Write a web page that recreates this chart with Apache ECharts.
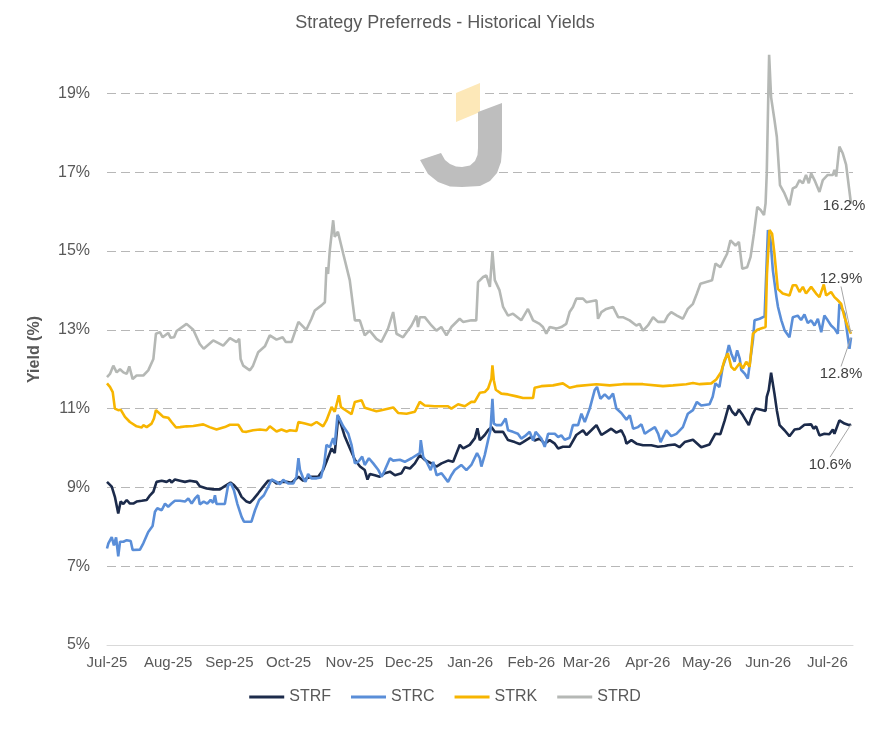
<!DOCTYPE html>
<html>
<head>
<meta charset="utf-8">
<script src="https://cdn.jsdelivr.net/npm/echarts@6/dist/echarts.min.js"></script>
<style>
  html, body { margin: 0; padding: 0; background: #fff; }
  #chart { width: 890px; height: 736px; }
</style>
</head>
<body>
<div id="chart"></div>
<script>
// x = days since 1 Jul 2025, y = yield in %
const START = Date.UTC(2025, 6, 1);
const DAY = 86400000;
const MONTHS = ['Jan', 'Feb', 'Mar', 'Apr', 'May', 'Jun', 'Jul', 'Aug', 'Sep', 'Oct', 'Nov', 'Dec'];
const seriesNames = ['STRF', 'STRC', 'STRK', 'STRD'];

const strf = [
  [0, 9.14], [2.4, 9.02], [4, 8.76], [5.7, 8.34], [6.9, 8.64], [8.3, 8.58], [10, 8.68], [11.6, 8.59],
  [13.3, 8.59], [15, 8.64], [17.6, 8.66], [20.1, 8.68], [21.8, 8.8], [23.5, 8.89], [25.1, 9.14], [27.7, 9.17],
  [30.2, 9.14], [31.9, 9.19], [32.7, 9.12], [34.4, 9.2], [37, 9.17], [39.5, 9.14], [42, 9.17], [45.4, 9.14],
  [47, 9.03], [50.5, 8.97], [53.8, 8.95], [57.2, 8.95], [59.7, 9.03], [62.6, 9.12], [64.3, 9.06], [66.5, 8.93],
  [68.2, 8.76], [70.7, 8.64], [72.4, 8.61], [74, 8.69], [76.6, 8.85], [79.2, 9.02], [81.7, 9.17], [84.2, 9.17],
  [85.9, 9.1], [88.4, 9.14], [91, 9.14], [93.5, 9.12], [97, 9.27], [99.4, 9.17], [101.1, 9.23], [103.6, 9.27],
  [107, 9.27], [109.5, 9.44], [111.2, 9.65], [112.1, 9.61], [113.8, 9.99], [115.4, 9.87], [117.2, 10.8], [118.9, 10.55],
  [120.5, 10.29], [123.1, 9.99], [125.6, 9.7], [128.2, 9.53], [130.6, 9.44], [132, 9.2], [133.2, 9.34], [135.7, 9.31],
  [138.2, 9.27], [140.8, 9.36], [143.4, 9.4], [145.9, 9.31], [149.2, 9.36], [150.9, 9.51], [153.5, 9.48], [156, 9.61],
  [158.5, 9.82], [161, 9.7], [164.4, 9.61], [166.9, 9.53], [169.5, 9.61], [172.8, 9.68], [175.4, 9.65], [178.8, 10.08],
  [180.5, 9.99], [183.8, 10.08], [186.4, 10.25], [187.7, 10.5], [188.9, 10.2], [191.4, 10.33], [193.1, 10.45], [194.8, 10.53],
  [196.5, 10.41], [200.7, 10.41], [203.2, 10.2], [206.6, 10.15], [209.1, 10.1], [210.8, 10.15], [215, 10.28], [216.7, 10.19],
  [219.2, 10.24], [221.8, 10.11], [224.3, 10.2], [226.9, 10.11], [228.6, 9.99], [231, 10.03], [234.4, 10.03], [237.8, 10.33],
  [241.2, 10.45], [242.9, 10.33], [245.4, 10.45], [248, 10.58], [250.5, 10.33], [253, 10.41], [255.5, 10.49], [258.1, 10.39],
  [260.6, 10.45], [262.3, 10.28], [263.2, 10.11], [265.7, 10.2], [268.3, 10.11], [271.6, 10.07], [275.8, 10.07], [279.2, 10.03],
  [282.6, 10.05], [284.2, 10.07], [287.6, 10.09], [290.1, 10.02], [292.7, 10.15], [296.9, 10.21], [301.1, 10.02], [305.3, 10.09],
  [308.2, 10.36], [310.8, 10.35], [313, 10.7], [315.1, 11.08], [316.8, 10.92], [318.5, 10.83], [320.2, 10.97], [322.2, 10.83],
  [325.2, 10.58], [326.9, 10.83], [328.6, 11.0], [331.4, 10.97], [333.7, 10.94], [334.3, 11.3], [335.3, 11.47], [336.5, 11.91],
  [338.2, 11.38], [339.4, 10.96], [340.8, 10.58], [343.3, 10.45], [345.8, 10.3], [348.4, 10.47], [350.9, 10.49], [353.4, 10.59],
  [356.8, 10.6], [358, 10.49], [359.3, 10.55], [361, 10.32], [363.5, 10.36], [366, 10.35], [367.8, 10.47], [368.6, 10.36],
  [371.1, 10.7], [373.7, 10.62], [376.2, 10.58], [377, 10.6]
];

const strc = [
  [0, 7.45], [0.7, 7.58], [2.4, 7.74], [3.5, 7.53], [4.6, 7.73], [5.7, 7.25], [6.6, 7.62], [8.3, 7.62],
  [10, 7.66], [12, 7.64], [13, 7.41], [16.7, 7.42], [18.4, 7.58], [20.9, 7.87], [23.1, 8.02], [24.3, 8.38],
  [25.5, 8.47], [27.7, 8.42], [29.4, 8.59], [31, 8.51], [32.7, 8.59], [34.4, 8.66], [37, 8.66], [39.5, 8.64],
  [41.2, 8.72], [42.9, 8.59], [44.6, 8.72], [46.2, 8.8], [47, 8.57], [49, 8.64], [50.8, 8.59], [52.5, 8.68],
  [53.8, 8.61], [54.7, 8.8], [55.5, 8.58], [59.7, 8.58], [61.4, 9.06], [62.8, 9.1], [64.3, 8.93], [66, 8.59],
  [68.2, 8.25], [69.4, 8.13], [73.2, 8.13], [75, 8.42], [77.1, 8.68], [79.5, 8.8], [81.7, 9.02], [83.4, 9.2],
  [85.9, 9.14], [87.6, 9.08], [89.3, 9.19], [91.8, 9.1], [94.4, 9.1], [96, 9.27], [97, 9.74], [97.8, 9.44],
  [99.4, 9.23], [100.6, 9.14], [101.9, 9.34], [103.6, 9.23], [106.2, 9.23], [108.4, 9.25], [110.1, 9.61], [111.2, 10.08],
  [112.9, 10.02], [114.6, 10.25], [115.4, 10.08], [116.8, 10.84], [118, 10.72], [119.7, 10.55], [122.2, 10.37], [123.9, 10.08],
  [125.6, 9.61], [127.3, 9.65], [129.3, 9.78], [130.6, 9.57], [132.7, 9.74], [134.9, 9.61], [137.5, 9.44], [139.2, 9.27],
  [140.8, 9.44], [143.4, 9.74], [145, 9.68], [148.4, 9.7], [150.9, 9.65], [154.3, 9.74], [158.5, 9.87], [159, 10.2],
  [160.2, 9.78], [161.9, 9.65], [164, 9.44], [165.3, 9.65], [167, 9.31], [169.5, 9.36], [172.8, 9.14], [174.5, 9.31],
  [176.2, 9.44], [179.5, 9.57], [182.1, 9.44], [184.6, 9.57], [187.5, 9.87], [188.9, 9.74], [189.7, 9.53], [191.4, 9.82],
  [193.1, 10.2], [194.3, 10.45], [195.3, 11.25], [196, 10.62], [197.3, 10.58], [199.8, 10.58], [200.7, 10.54], [202, 10.75],
  [203.2, 10.45], [205.7, 10.41], [208.2, 10.36], [209.9, 10.24], [211.7, 10.3], [214.2, 10.41], [215.9, 10.19], [217.2, 10.41],
  [220.1, 10.24], [221.8, 10.03], [223.5, 10.36], [226.9, 10.36], [228.6, 10.28], [230.2, 10.32], [231.9, 10.21], [234.4, 10.26],
  [236.1, 10.58], [238.7, 10.58], [240.4, 10.87], [242.1, 10.66], [244.6, 11.0], [247.1, 11.47], [248.3, 11.55], [250, 11.25],
  [252.2, 11.36], [254.4, 11.25], [256.4, 11.38], [258.1, 11.0], [260.6, 10.89], [263.2, 10.72], [264.9, 10.83], [266.6, 10.49],
  [269.1, 10.53], [270.8, 10.6], [272.5, 10.36], [275, 10.45], [277.6, 10.53], [279.3, 10.36], [280.5, 10.15], [283.4, 10.45],
  [285.9, 10.3], [288.5, 10.36], [291.8, 10.53], [294.3, 10.87], [296.9, 10.96], [298.9, 11.17], [301.1, 11.08], [305.3, 11.11],
  [306.9, 11.3], [308.3, 11.64], [310.3, 11.55], [312, 12.06], [313.7, 12.31], [315.1, 12.61], [316.3, 12.4], [318, 12.19],
  [319.3, 12.48], [320.6, 12.27], [321.4, 11.98], [323.1, 11.89], [324.7, 11.76], [325.6, 11.76], [327.3, 12.74], [328.1, 13.24],
  [330.7, 13.28], [333.2, 13.34], [334.9, 15.53], [336.2, 15.27], [337.4, 14.51], [339.2, 13.83], [340, 13.58], [340.9, 13.62],
  [341.7, 13.24], [343.4, 12.98], [345.8, 12.81], [347.5, 13.32], [350, 13.36], [351.7, 13.25], [353.4, 13.39], [355.1, 13.17],
  [356.8, 13.24], [358.5, 13.11], [360.2, 13.28], [361.9, 12.94], [363.5, 13.36], [365.2, 13.24], [366.9, 13.11], [368.6, 13.03],
  [370.3, 12.9], [371.1, 13.66], [373.7, 13.41], [376.2, 12.52], [377, 12.8]
];

const strk = [
  [0, 11.64], [1.5, 11.55], [2.9, 11.42], [4, 11.0], [5.7, 10.96], [7, 10.97], [9.1, 10.79], [11.6, 10.66],
  [15, 10.55], [17.6, 10.52], [18.4, 10.58], [20.1, 10.53], [22.6, 10.62], [23.8, 10.75], [24.8, 10.96], [26.8, 10.87],
  [28.5, 10.79], [31, 10.77], [32.7, 10.66], [35, 10.52], [37, 10.53], [40.3, 10.55], [43.7, 10.56], [48.8, 10.6],
  [52, 10.53], [55.5, 10.47], [59.7, 10.53], [62.3, 10.59], [66.5, 10.59], [68.7, 10.42], [70.7, 10.41], [74, 10.45],
  [77.5, 10.47], [80.8, 10.45], [82.5, 10.55], [85.9, 10.42], [88.4, 10.47], [91, 10.42], [92.7, 10.45], [96, 10.43],
  [97, 10.66], [100.3, 10.62], [103.6, 10.58], [106.2, 10.66], [109.5, 10.55], [111.2, 10.7], [113.8, 11.04], [115.4, 10.92],
  [117.5, 11.34], [118.5, 11.04], [120.5, 10.97], [123.9, 10.86], [125.6, 11.17], [129, 11.21], [130.6, 11.02], [136.5, 10.93],
  [139, 10.96], [145, 11.03], [147.5, 10.89], [151.8, 10.87], [156, 10.92], [158.5, 11.17], [161, 11.08], [166, 11.06],
  [172.8, 11.06], [174.5, 11.0], [177.9, 11.11], [181.3, 11.06], [184.6, 11.17], [186.3, 11.17], [188.9, 11.4], [191.4, 11.42],
  [193.1, 11.51], [194.8, 11.76], [195.3, 12.1], [196, 11.72], [197, 11.48], [199.8, 11.38], [203.2, 11.36], [207.5, 11.31],
  [210.8, 11.27], [215.9, 11.27], [216.7, 11.53], [220.1, 11.57], [226, 11.59], [231, 11.64], [234.4, 11.53], [237.8, 11.57],
  [248, 11.62], [254.7, 11.59], [261.4, 11.62], [271.6, 11.62], [281.7, 11.57], [286.8, 11.59], [293.5, 11.62], [296.9, 11.65],
  [300.3, 11.62], [306.2, 11.64], [308.7, 11.74], [311.2, 11.93], [312.9, 12.23], [314.6, 12.4], [316.3, 12.06], [318, 11.98],
  [320.6, 12.15], [322.2, 12.02], [323.9, 12.19], [325.6, 12.06], [327.3, 12.9], [329.5, 13.0], [333.7, 13.07], [334.4, 14.42],
  [335.7, 15.53], [337, 15.44], [338.2, 14.93], [339.9, 14.04], [342.4, 13.92], [345.8, 13.87], [347.5, 14.13], [349.2, 14.13],
  [350.9, 13.96], [352.6, 14.09], [354.2, 13.92], [356.8, 14.09], [359.3, 13.92], [361, 13.83], [363.2, 14.15], [364.4, 13.87],
  [366.9, 13.96], [368.6, 13.83], [370.3, 13.75], [372, 13.66], [373.7, 13.32], [375.4, 13.07], [377, 12.9]
];

const strd = [
  [0, 11.8], [1.5, 11.88], [3.2, 12.09], [4.9, 11.92], [6.6, 12.0], [8.3, 11.92], [10, 11.88], [11.3, 12.07],
  [13, 11.75], [15, 11.84], [18.4, 11.84], [20.9, 11.97], [23.5, 12.26], [24.8, 12.9], [26.8, 12.94], [28.2, 12.81],
  [31, 12.92], [32.2, 12.8], [34, 12.81], [35.3, 12.97], [40.3, 13.15], [43.7, 13.0], [47, 12.64], [49, 12.52],
  [53.8, 12.73], [58.9, 12.6], [62.3, 12.79], [65.7, 12.69], [67, 12.77], [67.7, 12.26], [69, 12.09], [72.4, 11.97],
  [74, 12.09], [76.6, 12.43], [80, 12.58], [82.5, 12.86], [85.9, 12.75], [89, 12.81], [90.6, 12.69], [93.5, 12.69],
  [97, 13.2], [101, 13.0], [103.6, 13.28], [105.3, 13.49], [108.7, 13.62], [110.4, 13.7], [111.2, 14.59], [112, 14.42],
  [112.9, 15.02], [114.6, 15.78], [115.4, 15.36], [117, 15.49], [119.7, 14.93], [123, 14.26], [125.6, 13.24], [128.1, 13.24],
  [130.6, 12.86], [133.1, 12.98], [136.5, 12.77], [139, 12.69], [142.4, 13.03], [145, 13.45], [146.7, 12.9], [150, 12.81],
  [154.3, 13.11], [156.8, 13.36], [157.6, 13.07], [158.5, 13.32], [161, 13.32], [164.4, 13.11], [166.9, 12.98], [169.4, 13.07],
  [172, 12.86], [174.5, 13.07], [178.7, 13.28], [180.4, 13.2], [184.6, 13.24], [187.1, 13.24], [188, 14.21], [189, 14.17],
  [190.6, 14.34], [192.2, 14.38], [194, 14.09], [195.3, 14.98], [196.5, 14.26], [198.9, 14.0], [200.7, 13.58], [203.2, 13.36],
  [205.7, 13.41], [209.9, 13.24], [213.3, 13.53], [215.9, 13.24], [219.2, 13.15], [220.9, 13.07], [222.6, 12.9], [224.3, 13.07],
  [227.7, 13.03], [230.2, 13.07], [232.7, 13.15], [234.4, 13.45], [236.1, 13.58], [237.8, 13.79], [241.2, 13.79], [242.9, 13.7],
  [248, 13.75], [248.8, 13.28], [250.5, 13.45], [253, 13.53], [256.4, 13.58], [259, 13.32], [261.4, 13.32], [264.8, 13.24],
  [268.2, 13.11], [269.9, 13.15], [271.6, 12.98], [274.1, 13.11], [276.7, 13.32], [279.2, 13.2], [282.5, 13.2], [284.2, 13.36],
  [285.9, 13.45], [288.8, 13.36], [291.8, 13.28], [294.3, 13.53], [296.9, 13.66], [298.9, 13.92], [300.7, 14.17], [306.6, 14.26],
  [308.3, 14.68], [310.8, 14.59], [312.5, 14.76], [314.2, 14.93], [315.9, 15.27], [318.5, 15.14], [320.2, 15.23], [321.9, 14.55],
  [324.4, 14.59], [326.1, 14.85], [327.8, 15.44], [329.5, 16.12], [331.2, 16.04], [332.9, 15.91], [333.7, 16.21], [334.3, 16.97],
  [335.1, 19.0], [335.5, 19.98], [336.5, 18.9], [338.2, 18.33], [339.4, 17.9], [340.4, 17.9], [341, 16.67], [343.3, 16.46],
  [345.8, 16.16], [347.5, 16.59], [349.2, 16.63], [350.9, 16.8], [352.6, 16.72], [354.2, 16.93], [355.6, 16.72], [356.8, 16.97],
  [358.5, 16.8], [361, 16.5], [362.7, 16.8], [365.2, 16.93], [367.8, 16.93], [368.6, 17.06], [369.5, 16.89], [371.1, 17.65],
  [372.8, 17.48], [374.5, 17.19], [377, 16.2]
];

const colors = ['#1c2b4b', '#5a8ed8', '#f7b500', '#b5b8b5'];
// where each end label sits relative to its last point
const endLabelShift = [[-21, 53], [-10, 49], [-10, -42], [-7, -7]];

function toPoints(arr) {
  return arr.map(function (p, i) {
    const item = { value: [START + p[0] * DAY, p[1]] };
    if (i === arr.length - 1) {
      item.symbol = 'circle';
      item.symbolSize = 0.5;
      item.label = { show: true };
    }
    return item;
  });
}

function makeSeries(name, arr, idx) {
  const shift = endLabelShift[idx];
  const isStrd = name === 'STRD';
  return {
    name: name,
    type: 'line',
    data: toPoints(arr),
    symbol: 'none',
    showSymbol: true,
    color: colors[idx],
    lineStyle: { width: 2.6, color: colors[idx] },
    label: {
      show: false,
      position: isStrd ? 'bottom' : 'top',
      distance: isStrd ? 1 : 5,
      color: '#404040',
      fontSize: 15,
      fontFamily: 'Liberation Sans, Arial, sans-serif',
      formatter: function (p) { return p.value[1].toFixed(1) + '%'; }
    },
    labelLayout: { dx: shift[0], dy: shift[1] },
    labelLine: {
      show: !isStrd,
      lineStyle: { color: '#a6a6a6', width: 1 }
    },
    emphasis: { disabled: true }
  };
}

const chart = echarts.init(document.getElementById('chart'));

chart.setOption({
  animation: false,
  useUTC: true,
  title: {
    text: 'Strategy Preferreds - Historical Yields',
    left: 'center',
    top: 9,
    textStyle: {
      fontSize: 18,
      fontWeight: 'normal',
      color: '#595959',
      fontFamily: 'Liberation Sans, Arial, sans-serif'
    }
  },
  legend: {
    data: seriesNames.map(function (n) { return { name: n, icon: 'rect' }; }),
    left: 'center',
    top: 684,
    itemWidth: 35,
    itemHeight: 3,
    itemGap: 20,
    textStyle: {
      fontSize: 16,
      color: '#595959',
      fontFamily: 'Liberation Sans, Arial, sans-serif'
    }
  },
  grid: {
    left: 107,
    right: 37,
    top: 54,
    bottom: 91
  },
  xAxis: {
    type: 'time',
    min: START,
    max: START + 378 * DAY,
    splitNumber: 13,
    axisLine: { show: true, lineStyle: { color: '#d9d9d9', width: 1 } },
    axisTick: { show: false },
    splitLine: { show: false },
    axisLabel: {
      margin: 10,
      fontSize: 15,
      color: '#595959',
      fontFamily: 'Liberation Sans, Arial, sans-serif',
      showMaxLabel: false,
      hideOverlap: true,
      formatter: function (v) {
        const d = new Date(v);
        return MONTHS[d.getUTCMonth()] + '-' + String(d.getUTCFullYear()).slice(2);
      }
    }
  },
  yAxis: {
    type: 'value',
    min: 5,
    max: 20,
    interval: 2,
    name: 'Yield (%)',
    nameLocation: 'middle',
    nameGap: 64,
    nameTextStyle: {
      fontSize: 16,
      fontWeight: 'bold',
      color: '#595959',
      fontFamily: 'Liberation Sans, Arial, sans-serif'
    },
    axisLine: { show: false },
    axisTick: { show: false },
    axisLabel: {
      margin: 17,
      fontSize: 16,
      color: '#595959',
      fontFamily: 'Liberation Sans, Arial, sans-serif',
      showMaxLabel: false,
      formatter: '{value}%'
    },
    splitLine: {
      show: true,
      showMinLine: false,
      showMaxLine: false,
      lineStyle: { color: '#b7b7b7', type: [9, 5], width: 1 }
    }
  },
  graphic: [
    {
      type: 'polygon',
      z: 5,
      shape: { points: [[456, 93], [480, 83], [480, 112], [456, 122]] },
      style: { fill: '#fde8b8' }
    },
    {
      // the grey "J" of the logo
      type: 'polygon',
      z: 5,
      shape: {
        points: [
          [502, 103], [502, 150], [501, 162], [497, 173], [490, 181], [480, 186], [462, 187],
          [450, 186.5], [438, 182], [428, 174], [420, 160], [441, 153], [445, 160], [450, 164],
          [456, 166.5], [462, 167], [470, 165.5], [475, 161], [477.5, 155], [478, 148], [478, 112]
        ]
      },
      style: { fill: '#bebebe' }
    }
  ],
  series: [
    makeSeries('STRF', strf, 0),
    makeSeries('STRC', strc, 1),
    makeSeries('STRK', strk, 2),
    makeSeries('STRD', strd, 3)
  ]
});
</script>
</body>
</html>
